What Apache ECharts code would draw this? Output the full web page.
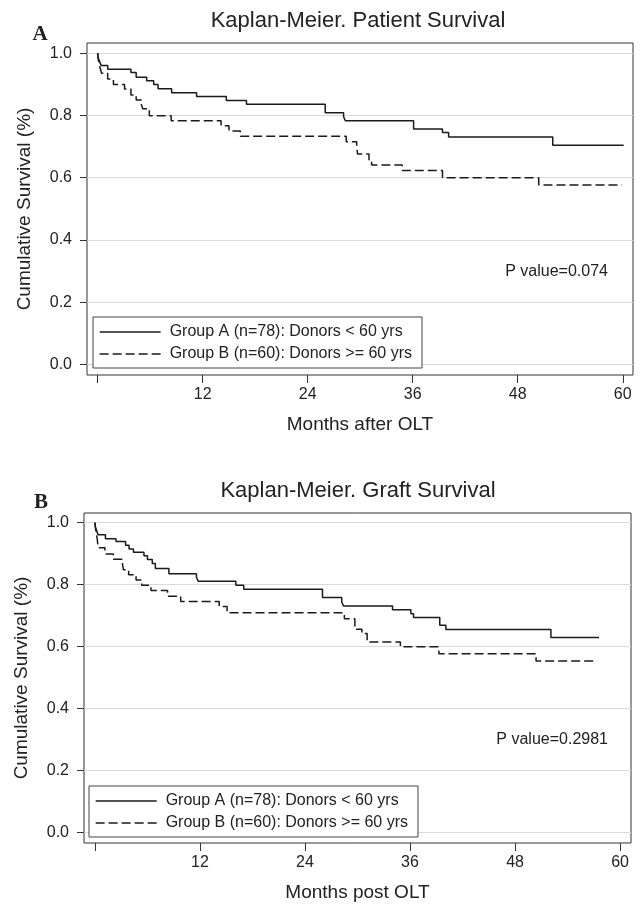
<!DOCTYPE html>
<html>
<head>
<meta charset="utf-8">
<script src="https://cdn.jsdelivr.net/npm/echarts@6/dist/echarts.min.js"></script>
<style>
  html, body { margin: 0; padding: 0; background: #fff; }
  #chart { width: 644px; height: 905px; }
</style>
</head>
<body>
<div id="chart"></div>
<script>
// Kaplan-Meier curves (months, cumulative survival)
const nameA = 'Group A (n=78): Donors < 60 yrs';
const nameB = 'Group B (n=60): Donors >= 60 yrs';

// panel A: patient survival
const patMonthsA = [0, 0.05, 0.2, 0.4, 1.15, 3.8, 4.4, 5.6, 6.4, 6.9, 8.45, 11.3, 14.7, 17.0, 26.0, 28.1, 28.3, 36.1, 39.4, 40.1, 52.0, 60.1];
const patSurvA   = [1.0, 0.987, 0.974, 0.961, 0.949, 0.938, 0.923, 0.912, 0.900, 0.886, 0.873, 0.861, 0.848, 0.836, 0.809, 0.796, 0.783, 0.757, 0.745, 0.731, 0.704, 0.704];
const patMonthsB = [0, 0.05, 0.15, 0.3, 0.45, 1.14, 1.8, 3.07, 3.8, 4.4, 5.0, 5.15, 5.9, 8.4, 14.1, 15.0, 16.3, 28.4, 29.6, 29.7, 31.0, 31.3, 34.8, 39.4, 50.4, 59.9];
const patSurvB   = [1.0, 0.983, 0.967, 0.95, 0.936, 0.917, 0.90, 0.885, 0.866, 0.850, 0.835, 0.822, 0.799, 0.783, 0.767, 0.75, 0.733, 0.716, 0.70, 0.676, 0.658, 0.641, 0.623, 0.60, 0.577, 0.577];

// panel B: graft survival
const graftMonthsA = [0, 0.05, 0.2, 0.35, 1.2, 2.4, 3.5, 3.9, 4.4, 5.6, 6.0, 6.55, 6.9, 8.45, 11.6, 11.8, 16.1, 17.0, 26.0, 28.2, 28.4, 34.0, 36.1, 36.4, 39.4, 40.1, 52.1, 57.6];
const graftSurvA   = [1.0, 0.987, 0.974, 0.961, 0.948, 0.939, 0.927, 0.915, 0.904, 0.893, 0.881, 0.868, 0.852, 0.835, 0.823, 0.811, 0.798, 0.785, 0.758, 0.744, 0.731, 0.719, 0.706, 0.694, 0.669, 0.655, 0.629, 0.629];
const graftMonthsB = [0, 0.05, 0.15, 0.27, 0.36, 1.14, 2.1, 3.15, 3.25, 3.85, 4.7, 5.35, 6.4, 8.3, 9.8, 14.2, 15.1, 28.5, 29.7, 30.5, 31.1, 34.9, 39.3, 50.4, 57.4];
const graftSurvB   = [1.0, 0.983, 0.967, 0.945, 0.919, 0.899, 0.882, 0.866, 0.848, 0.832, 0.815, 0.798, 0.781, 0.762, 0.745, 0.729, 0.709, 0.690, 0.656, 0.642, 0.615, 0.599, 0.577, 0.553, 0.553];

const xTicks = [0, 12, 24, 36, 48, 60];
const xLabels = [12, 24, 36, 48, 60];
const yTicks = [0, 0.2, 0.4, 0.6, 0.8, 1.0];

const FONT = '"Liberation Sans", Arial, Helvetica, sans-serif';
const INK = '#222';

const zip = (xs, ys) => xs.map((x, i) => [x, ys[i]]);

const xAxisOf = (idx, min, max, name) => ({
  type: 'value', gridIndex: idx, min: min, max: max,
  name: name, nameLocation: 'middle', nameGap: 40,
  nameTextStyle: { fontSize: 19, color: INK, fontFamily: FONT },
  axisLine: { show: false, onZero: false },
  axisTick: { show: true, length: 8, customValues: xTicks, lineStyle: { color: '#333' } },
  axisLabel: { customValues: xLabels, margin: 12, fontSize: 16, color: INK, fontFamily: FONT },
  splitLine: { show: false }
});

const yAxisOf = (idx, min, max) => ({
  type: 'value', gridIndex: idx, min: min, max: max,
  name: 'Cumulative Survival (%)', nameLocation: 'middle', nameGap: 53,
  nameTextStyle: { fontSize: 19, color: INK, fontFamily: FONT },
  axisLine: { show: false, onZero: false },
  axisTick: { show: true, length: 7, customValues: yTicks, lineStyle: { color: '#333' } },
  axisLabel: {
    customValues: yTicks, margin: 15, fontSize: 16, color: INK, fontFamily: FONT,
    formatter: v => v.toFixed(1)
  },
  splitLine: { show: true, lineStyle: { color: '#d9d9d9', width: 1 } }
});

const kmLine = (name, data, idx, dashed) => ({
  name: name, type: 'line', step: 'end',
  xAxisIndex: idx, yAxisIndex: idx,
  data: data, symbol: 'none', showSymbol: false,
  lineStyle: { color: '#1a1a1a', width: 1.5, type: dashed ? [9, 4] : 'solid' },
  itemStyle: { color: '#1a1a1a' },
  animation: false
});

const legendOf = (left, top) => ({
  orient: 'vertical', left: left, top: top,
  data: [nameA, nameB],
  itemWidth: 61, itemHeight: 14, itemGap: 6,
  padding: [7, 10, 6, 6],
  borderColor: '#444', borderWidth: 1, borderRadius: 0,
  backgroundColor: '#fff',
  selectedMode: false,
  itemStyle: { color: 'rgba(0,0,0,0)', borderWidth: 0, opacity: 0 },
  lineStyle: { width: 1.3 },
  textStyle: { fontSize: 16, color: INK, fontFamily: FONT, padding: [0, 0, 0, 4] }
});

const txt = (x, y, text, font, align) => ({
  type: 'text', x: x, y: y, silent: true,
  style: { text: text, font: font, fill: INK, textAlign: align || 'center', textVerticalAlign: 'middle' }
});

const chart = echarts.init(document.getElementById('chart'));
chart.setOption({
  backgroundColor: '#fff',
  animation: false,
  grid: [
    { left: 87, top: 43, width: 546, height: 332, show: true, borderColor: '#333', borderWidth: 1, backgroundColor: '#fff' },
    { left: 84, top: 513, width: 547, height: 330, show: true, borderColor: '#333', borderWidth: 1, backgroundColor: '#fff' }
  ],
  xAxis: [
    xAxisOf(0, -1.22, 61.17, 'Months after OLT'),
    xAxisOf(1, -1.25, 61.25, 'Months post OLT')
  ],
  yAxis: [
    yAxisOf(0, -0.034, 1.033),
    yAxisOf(1, -0.034, 1.031)
  ],
  legend: [legendOf(93, 317), legendOf(89, 786)],
  series: [
    kmLine(nameA, zip(patMonthsA, patSurvA), 0, false),
    kmLine(nameB, zip(patMonthsB, patSurvB), 0, true),
    kmLine(nameA, zip(graftMonthsA, graftSurvA), 1, false),
    kmLine(nameB, zip(graftMonthsB, graftSurvB), 1, true)
  ],
  graphic: [
    txt(358, 21, 'Kaplan-Meier. Patient Survival', '22px ' + FONT),
    txt(358, 491, 'Kaplan-Meier. Graft Survival', '22px ' + FONT),
    txt(40, 35, 'A', 'bold 21px "Liberation Serif", "Times New Roman", serif'),
    txt(41, 503, 'B', 'bold 21px "Liberation Serif", "Times New Roman", serif'),
    txt(608, 272, 'P value=0.074', '16px ' + FONT, 'right'),
    txt(608, 740, 'P value=0.2981', '16px ' + FONT, 'right')
  ]
});
</script>
</body>
</html>
